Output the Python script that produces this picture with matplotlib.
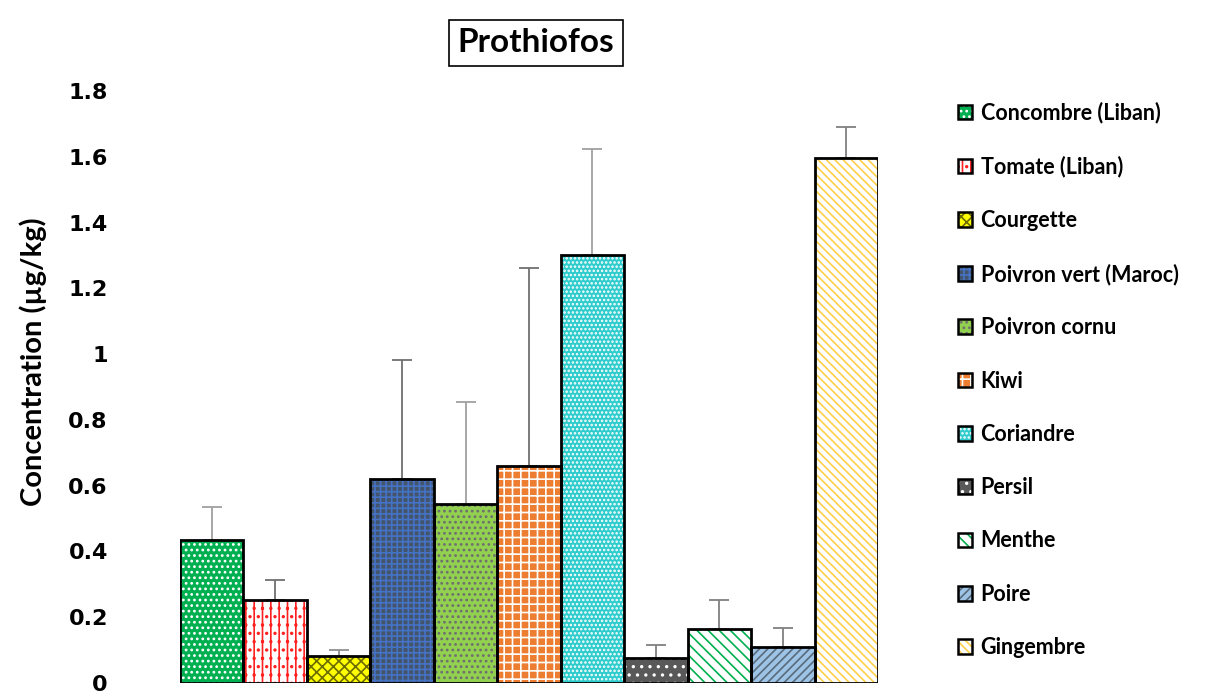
import matplotlib
matplotlib.use("Agg")
import matplotlib.pyplot as plt
from matplotlib.patches import Patch
from matplotlib.legend_handler import HandlerTuple

plt.rcParams['hatch.linewidth'] = 1.2

# data
names = ["Concombre (Liban)", "Tomate (Liban)", "Courgette", "Poivron vert (Maroc)",
         "Poivron cornu", "Kiwi", "Coriandre", "Persil", "Menthe", "Poire", "Gingembre"]
values = [0.435, 0.252, 0.082, 0.620, 0.544, 0.660, 1.301, 0.076, 0.164, 0.109, 1.596]
errors = [0.100, 0.061, 0.018, 0.362, 0.310, 0.602, 0.323, 0.040, 0.088, 0.058, 0.094]
yticks = [0, 0.2, 0.4, 0.6, 0.8, 1, 1.2, 1.4, 1.6, 1.8]
ytick_labels = ["0", "0.2", "0.4", "0.6", "0.8", "1", "1.2", "1.4", "1.6", "1.8"]

# fill colour, hatch colour, hatch pattern
styles = [
    ("#00B050", "white", "..."),
    ("white", "#FF2020", "||.."),
    ("#FFFF00", "#6B6B00", "xxx"),
    ("#44546A", "#4472C4", "+++"),
    ("#92D050", "#6E6E6E", "..."),
    ("#ED7D31", "white", "++"),
    ("#2ECCCC", "white", "...."),
    ("#595959", "white", ".."),
    ("white", "#00B050", "\\\\\\"),
    ("#9DC3E6", "#5A6B7A", "////"),
    ("white", "#FFD04A", "\\\\\\\\"),
]
err_colors = ["#A0A0A0", "#707070", "#909090", "#707070", "#A0A0A0", "#707070",
              "#A0A0A0", "#808080", "#808080", "#808080", "#808080"]

fig = plt.figure(figsize=(12.06, 6.97), dpi=100)
ax = fig.add_axes([180 / 1206, 1 - 683 / 697, (878 - 180) / 1206, (683 - 91) / 697])

for i, (v, e) in enumerate(zip(values, errors)):
    fc, hc, hatch = styles[i]
    ax.bar(i, v, width=1.0, color=fc, edgecolor=hc, hatch=hatch, linewidth=0, zorder=2)
    ax.bar(i, v, width=1.0, fill=False, edgecolor="black", linewidth=2, zorder=3)
    ax.errorbar(i, v, yerr=[[0], [e]], fmt="none", ecolor=err_colors[i],
                elinewidth=1.3, capsize=7, capthick=1.3, zorder=1)

ax.set_xlim(-0.5, 10.5)
ax.set_ylim(0, 1.8)
ax.set_xticks([])
ax.set_yticks(yticks)
ax.set_yticklabels(ytick_labels, fontsize=16, fontweight="bold", family="DejaVu Sans")
ax.tick_params(axis="y", length=0, pad=52)
for s in ["top", "right", "left", "bottom"]:
    ax.spines[s].set_visible(False)
ax.set_ylabel("Concentration (µg/kg)", fontsize=21, fontweight="bold", family="Lato")
ax.yaxis.set_label_coords(-0.19, 0.543)

fig.text(536 / 1206, 1 - 43 / 697, "Prothiofos", fontsize=24, fontweight="bold",
         family="Lato", ha="center", va="center",
         bbox=dict(boxstyle="square,pad=0.25", fc="white", ec="black", lw=1.2))

handles = []
for fc, hc, hatch in styles:
    handles.append((Patch(facecolor=fc, edgecolor=hc, hatch=hatch, linewidth=0),
                    Patch(fill=False, edgecolor="black", linewidth=1.8)))
leg = fig.legend(handles, names, loc="upper left", bbox_to_anchor=(958 / 1206, 1 - 102 / 697),
                 frameon=False, prop=dict(family="Lato", weight="bold", size=15.5),
                 handler_map={tuple: HandlerTuple(ndivide=1)},
                 handlelength=0.67, handleheight=0.67, handletextpad=0.38,
                 labelspacing=1.5, borderaxespad=0, borderpad=0)

plt.savefig("out.png", dpi=100)
